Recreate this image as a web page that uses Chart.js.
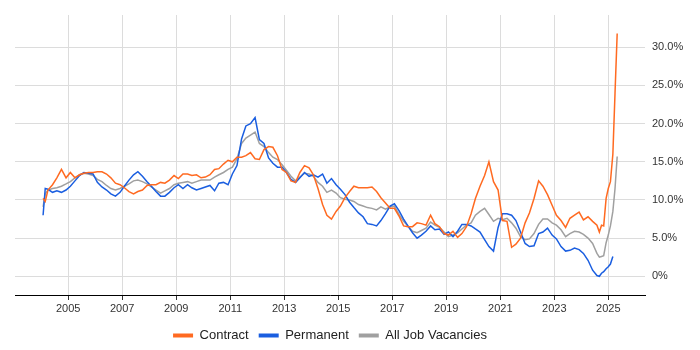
<!DOCTYPE html>
<html>
<head>
<meta charset="utf-8">
<title>Contract, Permanent and All Job Vacancies</title>
<script src="https://cdn.jsdelivr.net/npm/chart.js@4.4.1/dist/chart.umd.min.js"></script>
<style>
  html, body { margin: 0; padding: 0; background: #fff; }
  #wrap { width: 700px; height: 350px; }
</style>
</head>
<body>
<div id="wrap"><canvas id="chart" width="700" height="350"></canvas></div>
<script>
// Sample dates as decimal years (roughly every two months, monthly at the end)
const dates = [
    2004.07, 2004.15, 2004.25, 2004.42, 2004.58, 2004.75, 2004.92,
    2005.08, 2005.25, 2005.42, 2005.58, 2005.75, 2005.92,
    2006.08, 2006.25, 2006.42, 2006.58, 2006.75, 2006.92,
    2007.08, 2007.25, 2007.42, 2007.58, 2007.75, 2007.92,
    2008.08, 2008.25, 2008.42, 2008.58, 2008.75, 2008.92,
    2009.08, 2009.25, 2009.42, 2009.58, 2009.75, 2009.92,
    2010.08, 2010.25, 2010.42, 2010.58, 2010.75, 2010.92,
    2011.08, 2011.25, 2011.42, 2011.58, 2011.75, 2011.92,
    2012.08, 2012.25, 2012.42, 2012.58, 2012.75, 2012.92,
    2013.08, 2013.25, 2013.42, 2013.58, 2013.75, 2013.92,
    2014.08, 2014.25, 2014.42, 2014.58, 2014.75, 2014.92,
    2015.08, 2015.25, 2015.42, 2015.58, 2015.75, 2015.92,
    2016.08, 2016.25, 2016.42, 2016.58, 2016.75, 2016.92,
    2017.08, 2017.25, 2017.42, 2017.58, 2017.75, 2017.92,
    2018.08, 2018.25, 2018.42, 2018.58, 2018.75, 2018.92,
    2019.08, 2019.25, 2019.42, 2019.58, 2019.75, 2019.92,
    2020.08, 2020.25, 2020.42, 2020.58, 2020.75, 2020.92,
    2021.08, 2021.25, 2021.42, 2021.58, 2021.75, 2021.92,
    2022.08, 2022.25, 2022.42, 2022.58, 2022.75, 2022.92,
    2023.08, 2023.25, 2023.42, 2023.58, 2023.75, 2023.92,
    2024.08, 2024.25, 2024.42, 2024.58, 2024.67, 2024.75, 2024.83, 2024.92,
    2025.00, 2025.08, 2025.17, 2025.25, 2025.33
];

// Percentages
const contract = [
    10.2, 9.8, 11.3, 12.0, 12.9, 14.0, 12.9,
    13.6, 12.9, 13.3, 13.5, 13.6, 13.6,
    13.7, 13.7, 13.4, 12.9, 12.2, 12.0,
    11.6, 11.1, 10.8, 11.1, 11.3, 11.9,
    12.0, 12.0, 12.3, 12.2, 12.6, 13.2,
    12.8, 13.4, 13.4, 13.2, 13.3, 12.9,
    13.0, 13.3, 14.0, 14.1, 14.7, 15.2,
    15.0, 15.6, 15.6, 15.8, 16.2, 15.4,
    15.3, 16.6, 17.0, 16.9, 15.8, 14.0,
    13.6, 12.5, 12.3, 13.6, 14.5, 14.2,
    13.3, 11.5, 9.4, 8.0, 7.5, 8.5,
    9.2, 10.3, 11.1, 11.8, 11.6, 11.6,
    11.6, 11.7, 11.1, 10.3, 9.6, 8.9,
    8.9, 7.9, 6.6, 6.5, 6.5, 7.0,
    6.9, 6.7, 8.0, 6.9, 6.5, 5.6,
    5.4, 5.9, 5.1, 5.6, 6.5, 8.2,
    10.2, 11.8, 13.2, 15.0, 12.4, 11.3,
    7.3, 7.2, 3.8, 4.2, 5.0, 7.0,
    8.3, 10.2, 12.5, 11.8, 10.7, 9.3,
    8.0, 7.3, 6.4, 7.6, 8.0, 8.4,
    7.4, 7.8, 7.2, 6.7, 5.8, 6.7, 6.6, 10.2,
    11.5, 12.4, 16.0, 24.0, 31.8
];

const permanent = [
    8.0, 11.5, 11.4, 11.0, 11.2, 11.0, 11.3,
    11.8, 12.5, 13.2, 13.6, 13.5, 13.4,
    12.3, 11.7, 11.3, 10.8, 10.5, 11.0,
    11.8, 12.6, 13.3, 13.7, 13.1, 12.4,
    11.8, 11.1, 10.5, 10.5, 11.0, 11.6,
    12.0, 11.5, 12.0, 11.6, 11.3, 11.5,
    11.7, 11.9, 11.2, 12.2, 12.3, 12.0,
    13.4, 14.5, 18.0, 19.7, 20.0, 20.8,
    17.9, 17.4, 15.5, 14.8, 14.3, 14.3,
    13.6, 12.7, 12.3, 12.9, 13.6, 13.1,
    13.3, 13.0, 13.4, 12.2, 12.8, 12.0,
    11.4, 10.7, 9.7, 9.0, 8.3, 7.8,
    6.9, 6.8, 6.6, 7.3, 8.2, 9.2,
    9.5, 8.6, 7.5, 6.6, 5.7, 5.0,
    5.4, 5.9, 6.6, 6.1, 6.2, 5.5,
    5.8, 5.2, 5.9, 6.8, 6.8, 6.6,
    6.2, 5.8, 4.8, 3.9, 3.3, 6.4,
    8.2, 8.2, 8.0, 7.3, 5.8, 4.3,
    3.9, 4.0, 5.6, 5.8, 6.3, 5.4,
    4.9, 3.9, 3.3, 3.4, 3.7, 3.5,
    3.0, 2.1, 0.8, 0.1, 0.0, 0.4, 0.6, 1.0,
    1.25, 1.6, 2.6, null, null
];

const allJobs = [
    9.1, 10.8, 11.3, 11.5, 11.6, 11.8, 12.1,
    12.4, 12.9, 13.3, 13.5, 13.4, 13.2,
    12.7, 12.4, 11.9, 11.5, 11.3, 11.5,
    11.8, 12.1, 12.5, 12.6, 12.4, 12.1,
    11.7, 11.3, 10.9, 11.2, 11.5, 12.0,
    12.2, 12.3, 12.4, 12.2, 12.4, 12.6,
    12.6, 12.6, 13.0, 13.3, 13.6, 14.0,
    14.3, 15.4, 17.4, 18.1, 18.5, 18.9,
    17.4, 17.0, 16.2, 15.6, 15.3, 14.6,
    13.9, 13.1, 12.5, 13.0, 13.5, 13.4,
    13.1, 12.3, 11.8, 11.0, 11.3, 10.9,
    10.3, 10.1, 10.0, 9.8, 9.4, 9.2,
    9.0, 8.9, 8.7, 9.1, 8.8, 9.1,
    9.2, 8.1, 7.2, 6.6, 5.9, 5.7,
    6.0, 6.3, 7.1, 6.7, 6.4, 5.8,
    5.2, 5.4, 5.7, 6.2, 6.7, 7.0,
    8.0, 8.5, 8.9, 8.1, 7.2, 7.6,
    7.4, 7.6, 7.0, 6.3, 5.2, 4.8,
    4.9, 5.6, 6.8, 7.5, 7.5, 7.0,
    6.7, 6.1, 5.2, 5.6, 5.9, 5.8,
    5.5, 5.0, 4.3, 3.0, 2.5, 2.6, 2.7, 4.4,
    5.4, 6.6, 8.5, 11.5, 15.7
];

const xTicks = [2005, 2007, 2009, 2011, 2013, 2015, 2017, 2019, 2021, 2023, 2025];
const yTicks = [0, 5, 10, 15, 20, 25, 30];

const FONT = 'Liberation Sans, Arial, Helvetica, sans-serif';
const GRID = '#dcdcdc';

function toPoints(values) {
    return dates.map((d, i) => ({ x: d, y: values[i] }));
}

function lineSet(label, values, color) {
    return {
        label: label,
        data: toPoints(values),
        borderColor: color,
        backgroundColor: color,
        borderWidth: 1.5,
        pointRadius: 0,
        tension: 0,
        spanGaps: false
    };
}

// centre the legend under the plot area rather than the whole canvas
const legendUnderPlot = {
    id: 'legendUnderPlot',
    afterLayout(chart) {
        chart.legend.left = 5;
        chart.legend.right = 655;
    }
};

const ctx = document.getElementById('chart').getContext('2d');

new Chart(ctx, {
    type: 'line',
    data: {
        datasets: [
            lineSet('Contract', contract, '#ff6a21'),
            lineSet('Permanent', permanent, '#1a5ee0'),
            lineSet('All Job Vacancies', allJobs, '#a0a0a0')
        ]
    },
    plugins: [legendUnderPlot],
    options: {
        responsive: false,
        animation: false,
        devicePixelRatio: 1,
        layout: { padding: { left: 15, right: 0, top: 15, bottom: -2 } },
        plugins: {
            tooltip: { enabled: false },
            legend: {
                position: 'bottom',
                labels: {
                    boxWidth: 20,
                    boxHeight: 4,
                    padding: 10,
                    color: '#222',
                    font: { family: FONT, size: 13 },
                    generateLabels: chart =>
                        Chart.defaults.plugins.legend.labels.generateLabels(chart)
                            .map(item => ({ ...item, lineWidth: 0 }))
                }
            }
        },
        scales: {
            x: {
                type: 'linear',
                min: 2003.03,
                max: 2026.36,
                afterBuildTicks: axis => { axis.ticks = xTicks.map(v => ({ value: v })); },
                afterFit: axis => { axis.height = 24; },
                grid: { color: GRID, tickColor: '#333', tickLength: 5 },
                border: { color: '#000', width: 1 },
                ticks: {
                    color: '#333',
                    padding: 2,
                    maxRotation: 0,
                    autoSkip: false,
                    font: { family: FONT, size: 11 },
                    callback: v => String(v)
                }
            },
            y: {
                type: 'linear',
                position: 'right',
                min: -2.45,
                max: 34.23,
                afterBuildTicks: axis => { axis.ticks = yTicks.map(v => ({ value: v })); },
                afterFit: axis => { axis.width = 55; },
                grid: { color: GRID, drawTicks: false },
                border: { display: false },
                ticks: {
                    color: '#333',
                    padding: 7,
                    font: { family: FONT, size: 11 },
                    callback: v => (v === 0 ? '0%' : v.toFixed(1) + '%')
                }
            }
        }
    }
});
</script>
</body>
</html>
